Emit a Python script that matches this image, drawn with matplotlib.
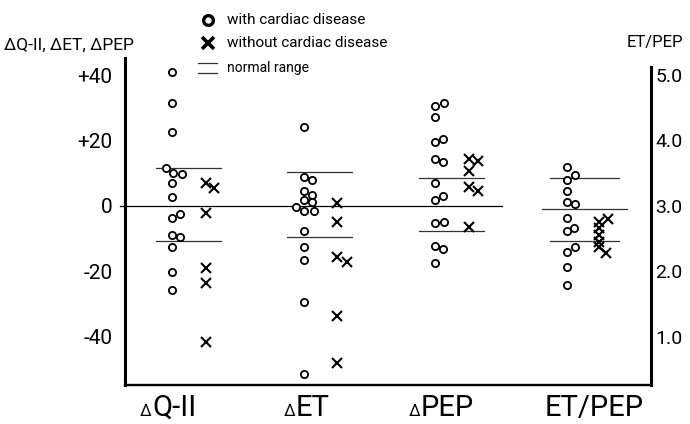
import matplotlib.pyplot as plt
from matplotlib.lines import Line2D

plt.rcParams['font.family'] = ['Roboto', 'DejaVu Sans']

W, H = 690, 424

categories = ['Q-II', 'ET', 'PEP', 'ET/PEP']
has_delta = [True, True, True, False]

# left scale (delta values)
qii_with = [40.8, 31.4, 22.5, 11.5, 10.2, 9.8, 6.9, 2.7, -2.4, -3.8, -8.9, -9.4, -12.6, -20.2, -25.8]
qii_with_jit = [0, 0, 0, -0.8, 0.1, 1.2, 0, 0, 1, 0, 0, 1, 0, 0, 0]
qii_without = [6.9, 5.6, -2.2, -19.0, -23.6, -41.6]
qii_without_jit = [0, 1, 0, 0, 0, 0]

et_with = [24.2, 8.9, 7.9, 4.7, 3.4, 1.8, 1.3, -0.2, -1.5, -1.5, -7.5, -12.4, -16.5, -29.4, -51.4]
et_with_jit = [0, 0, 1, 0, 1, 0, 1, -1, 0, 1.25, 0, 0, 0, 0, 0]
et_without = [0.8, -5.0, -15.5, -17.2, -33.6, -48.0]
et_without_jit = [0, 0, 0, 1.2, 0, 0]

pep_with = [30.5, 31.5, 27.1, 19.6, 20.5, 14.4, 13.3, 6.9, 3.1, 1.8, -4.8, -5.3, -12.1, -13.1, -17.5]
pep_with_jit = [0, 1.1, 0, 0, 1, 0, 1, 0, 1, 0, 1.1, 0, 0, 1, 0]
pep_without = [14.3, 13.8, 10.8, 5.7, 4.6, -6.3]
pep_without_jit = [0, 1.2, 0, 0, 1.2, 0]

# right scale (ET/PEP ratio)
ratio_with = [3.60, 3.47, 3.39, 3.23, 3.06, 3.03, 2.81, 2.66, 2.62, 2.37, 2.30, 2.07, 1.79]
ratio_with_jit = [0, 1, 0, 0, 0, 1, 0, 0.8, 0, 1, 0, 0, 0]
ratio_without = [2.80, 2.76, 2.66, 2.56, 2.45, 2.37, 2.28]
ratio_without_jit = [1.1, 0, 0, 0, 0, 0, 0.9]

# normal ranges
normal_hi = [11.5, 10.5, 8.5]
normal_lo = [-10.6, -9.4, -7.6]
ratio_normal = [3.42, 2.95, 2.47]

left_ticks = [40, 20, 0, -20, -40]
left_labels = ['+40', '+20', '0', '-20', '-40']
right_ticks = [5.0, 4.0, 3.0, 2.0, 1.0]
right_labels = ['5.0', '4.0', '3.0', '2.0', '1.0']

ylo, yhi = -54.7, 45.2


def px(x, y):
    return x / W, 1 - y / H


fig = plt.figure(figsize=(W / 100, H / 100), dpi=100)
ax = fig.add_axes([125 / W, 1 - 385 / H, (651 - 125) / W, (385 - 58) / H])
ax2 = ax.twinx()

ax.set_xlim(-0.5, 3.5)
ax.set_ylim(ylo, yhi)
ax2.set_ylim(3 + ylo / 20, 3 + yhi / 20)

unit = 8 / 131.5
circ = dict(marker='o', ls='none', ms=5.2, mfc='white', mec='black', mew=1.3, zorder=3)
cross = dict(marker='x', ls='none', ms=6.5, mec='black', mew=1.5, zorder=3)

groups = [(qii_with, qii_with_jit, qii_without, qii_without_jit),
          (et_with, et_with_jit, et_without, et_without_jit),
          (pep_with, pep_with_jit, pep_without, pep_without_jit)]
for i, (w, wj, wo, woj) in enumerate(groups):
    ax.plot([i - 0.14 + j * unit for j in wj], w, **circ)
    ax.plot([i + 0.115 + j * unit for j in woj], wo, **cross)
    for v in (normal_hi[i], normal_lo[i]):
        ax.plot([i - 0.265, i + 0.23], [v, v], color='#333333', lw=0.9, zorder=2)

ax2.plot([3 - 0.135 + j * unit for j in ratio_with_jit], ratio_with, **circ)
ax2.plot([3 + 0.105 + j * unit for j in ratio_without_jit], ratio_without, **cross)
ax2.plot([3 - 0.265, 3 + 0.26], [ratio_normal[0]] * 2, color='#333333', lw=0.9, zorder=2)
ax2.plot([3 - 0.33, 3 + 0.32], [ratio_normal[1]] * 2, color='#333333', lw=0.9, zorder=2)
ax2.plot([3 - 0.265, 3 + 0.26], [ratio_normal[2]] * 2, color='#333333', lw=0.9, zorder=2)

# zero line
ax.plot([-0.54, 2.37], [0, 0], color='black', lw=0.9, zorder=2, clip_on=False)

for s in ['top', 'right']:
    ax.spines[s].set_visible(False)
for s in ['top', 'left', 'bottom']:
    ax2.spines[s].set_visible(False)
ax.spines['left'].set_linewidth(2.2)
ax.spines['bottom'].set_linewidth(1.7)
ax2.spines['right'].set_linewidth(2.2)
ax2.spines['right'].set_bounds(3 + ylo / 20, 5.12)

ax.set_xticks([])
ax.set_yticks(left_ticks)
ax.set_yticklabels(left_labels, fontsize=15)
ax.tick_params(axis='y', length=0, pad=9)
ax2.set_yticks(right_ticks)
ax2.set_yticklabels(right_labels, fontsize=14)
ax2.tick_params(axis='y', length=0, pad=3)

# axis titles
fig.text(*px(4, 45), 'ΔQ-II, ΔET, ΔPEP', fontsize=12.5, ha='left', va='center')
fig.text(*px(655, 43), 'ET/PEP', fontsize=12, ha='center', va='center')

# legend
fig.add_artist(Line2D([208 / W], [1 - 20 / H], marker='o', ms=7, mfc='white', mec='black', mew=2.4,
                      transform=fig.transFigure))
fig.add_artist(Line2D([208 / W], [1 - 43 / H], marker='x', ms=8, mec='black', mew=2.6,
                      transform=fig.transFigure))
for yy in (63, 73):
    fig.add_artist(Line2D([198 / W, 217 / W], [1 - yy / H] * 2, color='#333333', lw=0.9,
                          transform=fig.transFigure))
fig.text(*px(227, 20), 'with cardiac disease', fontsize=11, ha='left', va='center')
fig.text(*px(227, 43), 'without cardiac disease', fontsize=11, ha='left', va='center')
fig.text(*px(227, 68), 'normal range', fontsize=10, ha='left', va='center')

# category labels
label_left = [152, 296, 421, 545]
for name, d, xl in zip(categories, has_delta, label_left):
    fig.text(*px(xl, 416), name, fontsize=21, ha='left', va='baseline')
    if d:
        fig.text(*px(xl - 1, 416), 'Δ', fontsize=12, ha='right', va='baseline')

fig.savefig('out.png', dpi=100)
